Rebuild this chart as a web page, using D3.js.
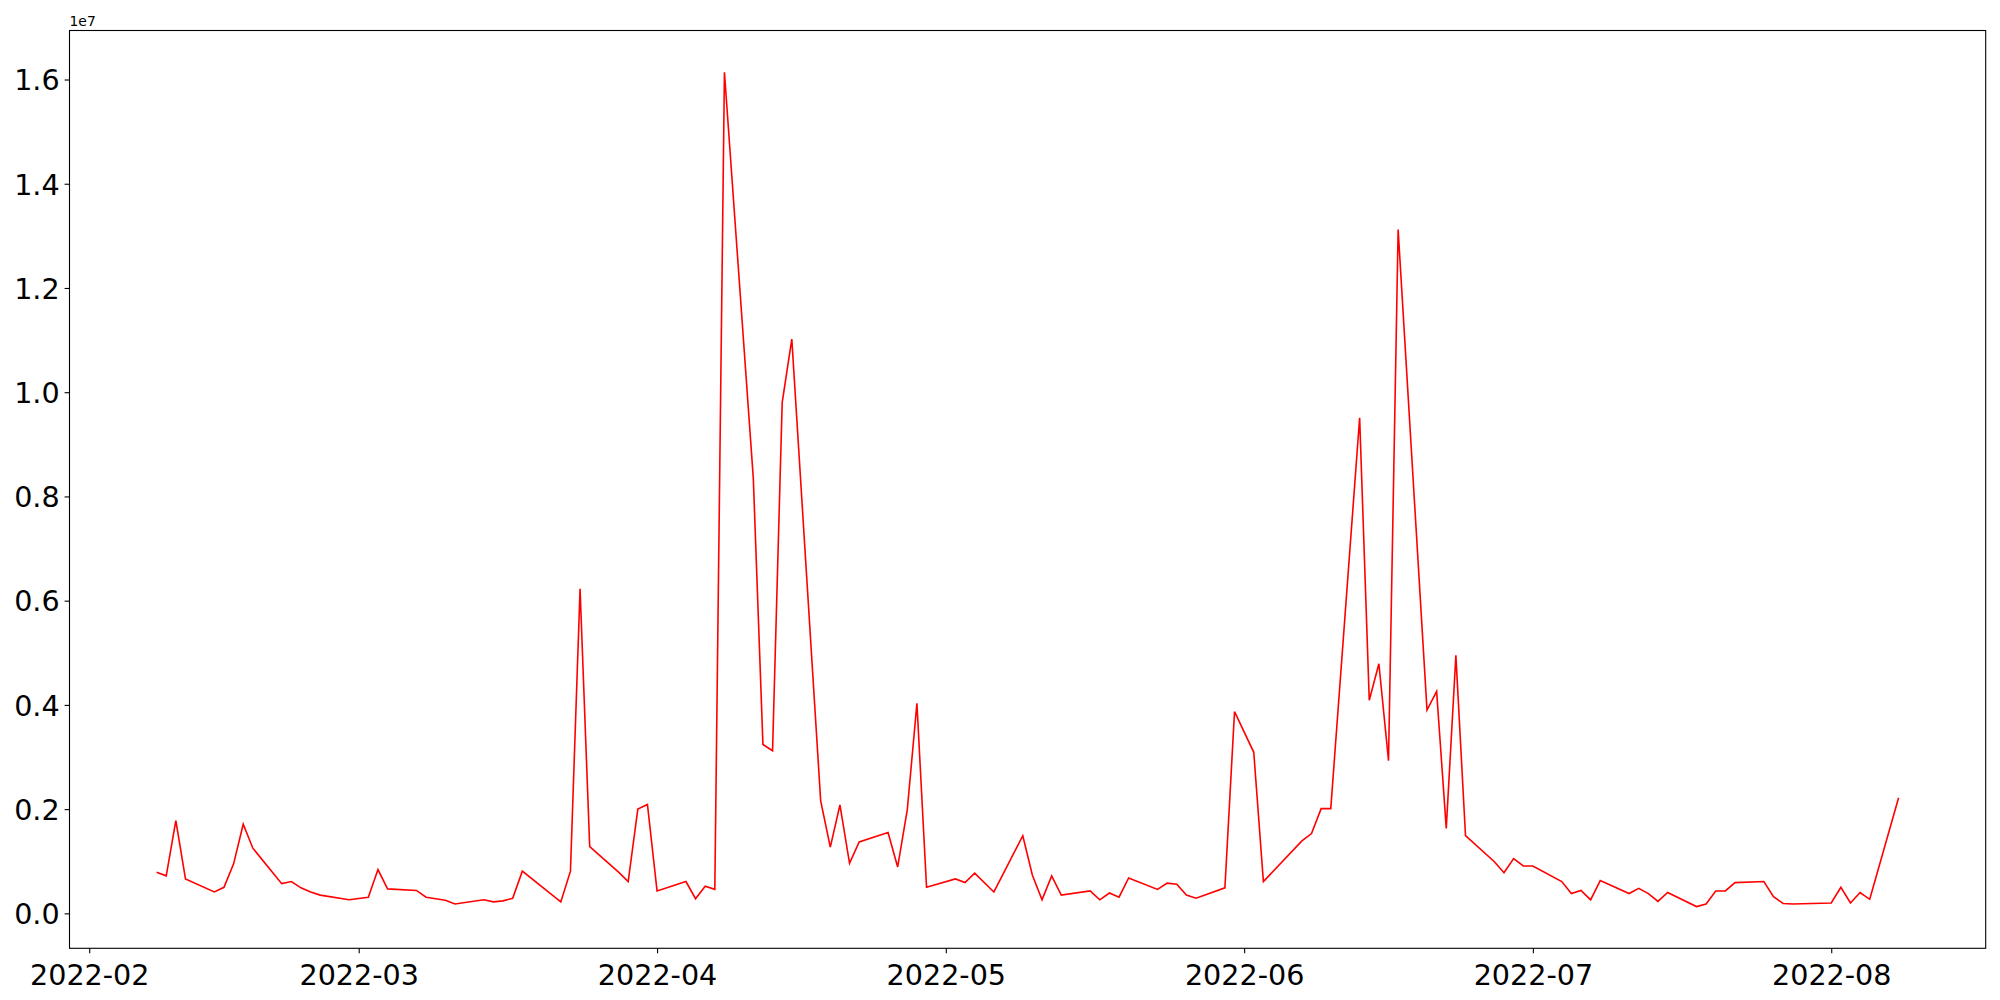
<!DOCTYPE html>
<html lang="en">
<head>
<meta charset="UTF-8">
<title>Volume</title>
<script src="https://d3js.org/d3.v7.min.js"></script>
<style>
  body { margin: 0; background: #fff; }
  svg text { font-family: "DejaVu Sans", sans-serif; fill: #000; }
</style>
</head>
<body>
<div id="chart"></div>
<script>
// trading days (weekdays with a few gaps) and values, in units of 1e6
const dates = [
  "2022-02-08","2022-02-09","2022-02-10","2022-02-11","2022-02-14","2022-02-15","2022-02-16","2022-02-17","2022-02-18",
  "2022-02-21","2022-02-22","2022-02-23","2022-02-24","2022-02-25","2022-02-28",
  "2022-03-02","2022-03-03","2022-03-04","2022-03-07","2022-03-08","2022-03-09","2022-03-10","2022-03-11",
  "2022-03-14","2022-03-15","2022-03-16","2022-03-17","2022-03-18","2022-03-22","2022-03-23","2022-03-24","2022-03-25",
  "2022-03-28","2022-03-29","2022-03-30","2022-03-31","2022-04-01",
  "2022-04-04","2022-04-05","2022-04-06","2022-04-07","2022-04-08","2022-04-11","2022-04-12","2022-04-13","2022-04-14","2022-04-15",
  "2022-04-18","2022-04-19","2022-04-20","2022-04-21","2022-04-22","2022-04-25","2022-04-26","2022-04-27","2022-04-28","2022-04-29",
  "2022-05-02","2022-05-03","2022-05-04","2022-05-06","2022-05-09","2022-05-10","2022-05-11","2022-05-12","2022-05-13",
  "2022-05-16","2022-05-17","2022-05-18","2022-05-19","2022-05-20","2022-05-23","2022-05-24","2022-05-25","2022-05-26","2022-05-27",
  "2022-05-30","2022-05-31","2022-06-02","2022-06-03","2022-06-07","2022-06-08","2022-06-09","2022-06-10",
  "2022-06-13","2022-06-14","2022-06-15","2022-06-16","2022-06-17","2022-06-20","2022-06-21","2022-06-22","2022-06-23","2022-06-24",
  "2022-06-27","2022-06-28","2022-06-29","2022-06-30","2022-07-01","2022-07-04","2022-07-05","2022-07-06","2022-07-07","2022-07-08",
  "2022-07-11","2022-07-12","2022-07-13","2022-07-14","2022-07-15","2022-07-18","2022-07-19","2022-07-20","2022-07-21","2022-07-22",
  "2022-07-25","2022-07-26","2022-07-27","2022-07-28","2022-08-01","2022-08-02","2022-08-03","2022-08-04","2022-08-05","2022-08-08"
];
const volume = [
  0.79,0.72,1.78,0.66,0.41,0.50,0.95,1.71,1.25,
  0.57,0.61,0.49,0.41,0.35,0.26,
  0.31,0.84,0.47,0.44,0.31,0.28,0.25,0.18,
  0.26,0.22,0.24,0.29,0.81,0.22,0.81,6.23,1.28,
  0.79,0.61,2.00,2.09,0.43,
  0.61,0.28,0.52,0.46,16.14,8.35,3.24,3.12,9.80,11.02,
  2.16,1.27,2.08,0.96,1.37,1.55,0.89,1.99,4.03,0.50,
  0.66,0.59,0.77,0.41,1.49,0.73,0.26,0.72,0.35,
  0.43,0.26,0.39,0.31,0.68,0.46,0.58,0.56,0.35,0.29,
  0.49,3.87,3.09,0.61,1.39,1.53,2.01,2.01,
  9.51,4.09,4.79,2.93,13.12,3.90,4.26,1.63,4.95,1.49,
  0.99,0.78,1.05,0.91,0.91,0.61,0.38,0.44,0.26,0.63,
  0.38,0.48,0.38,0.23,0.40,0.13,0.18,0.43,0.43,0.59,
  0.61,0.32,0.19,0.18,0.20,0.50,0.20,0.40,0.27,2.22
];
const xTicks = ["2022-02-01","2022-03-01","2022-04-01","2022-05-01","2022-06-01","2022-07-01","2022-08-01"];
const yTicks = [0, 2, 4, 6, 8, 10, 12, 14, 16];

const W = 2000, H = 1000;
const margin = { left: 69.5, right: 1985.7, top: 30.5, bottom: 948.3 };

const parse = d3.utcParse("%Y-%m-%d");
const data = dates.map((d, i) => ({ date: parse(d), v: volume[i] }));

// matplotlib style 5% margins
const xExt = d3.extent(data, d => +d.date);
const xPad = (xExt[1] - xExt[0]) * 0.05;
const x = d3.scaleUtc()
  .domain([new Date(xExt[0] - xPad), new Date(xExt[1] + xPad)])
  .range([margin.left, margin.right]);

const yExt = d3.extent(data, d => d.v);
const yPad = (yExt[1] - yExt[0]) * 0.05;
const y = d3.scaleLinear()
  .domain([yExt[0] - yPad, yExt[1] + yPad])
  .range([margin.bottom, margin.top]);

const svg = d3.select("#chart").append("svg")
  .attr("width", W)
  .attr("height", H);

// line
const line = d3.line()
  .x(d => x(d.date))
  .y(d => y(d.v));

svg.append("path")
  .datum(data)
  .attr("d", line)
  .attr("fill", "none")
  .attr("stroke", "#ff0000")
  .attr("stroke-width", 1.6)
  .attr("stroke-linejoin", "miter");

// axes
const fmtX = d3.utcFormat("%Y-%m");
const xAxis = d3.axisBottom(x)
  .tickValues(xTicks.map(parse))
  .tickFormat(fmtX)
  .tickSizeOuter(0)
  .tickSize(4.9)
  .tickPadding(5);

const yAxis = d3.axisLeft(y)
  .tickValues(yTicks)
  .tickFormat(d => (d / 10).toFixed(1))
  .tickSizeOuter(0)
  .tickSize(4.9)
  .tickPadding(5);

const gx = svg.append("g")
  .attr("transform", `translate(0,${margin.bottom})`)
  .call(xAxis);
gx.select(".domain").remove();
gx.selectAll("line").attr("stroke", "#000").attr("stroke-width", 1.1);
gx.selectAll("text").style("font-size", "28.6px").attr("dy", "0.93em");

const gy = svg.append("g")
  .attr("transform", `translate(${margin.left},0)`)
  .call(yAxis);
gy.select(".domain").remove();
gy.selectAll("line").attr("stroke", "#000").attr("stroke-width", 1.1);
gy.selectAll("text").style("font-size", "28.6px").attr("dy", "0.36em");

// frame
svg.append("rect")
  .attr("x", margin.left)
  .attr("y", margin.top)
  .attr("width", margin.right - margin.left)
  .attr("height", margin.bottom - margin.top)
  .attr("fill", "none")
  .attr("stroke", "#000")
  .attr("stroke-width", 1.1);

// offset text
svg.append("text")
  .attr("x", margin.left)
  .attr("y", margin.top - 5)
  .style("font-size", "13.9px")
  .text("1e7");
</script>
</body>
</html>
